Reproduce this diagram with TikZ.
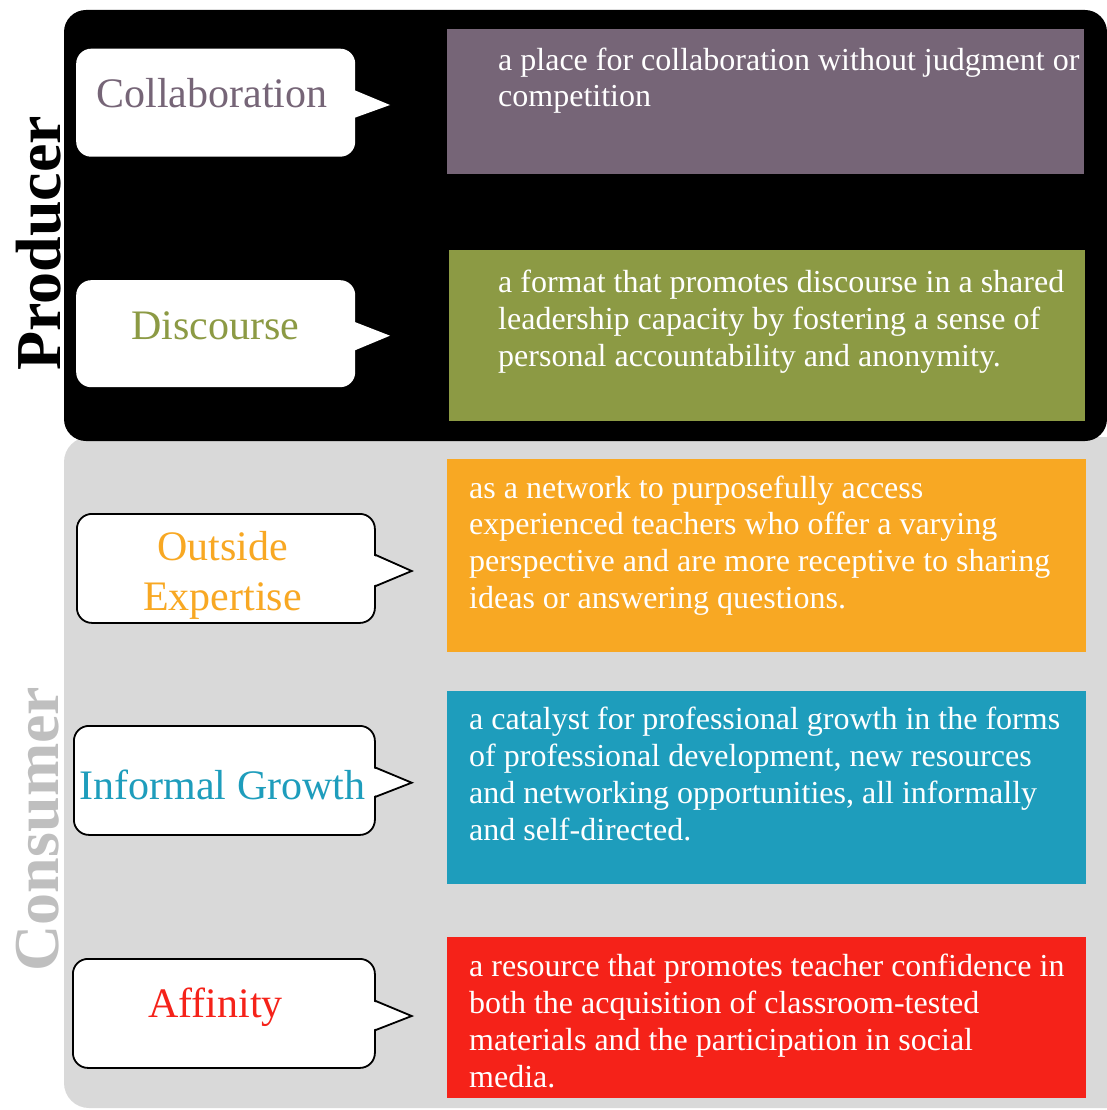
\documentclass[tikz,border=0pt]{standalone}
\usepackage{fontspec}
\setmainfont{Liberation Serif}
\usetikzlibrary{calc}

\definecolor{collabcol}{HTML}{766577}
\definecolor{discol}{HTML}{8C9A44}
\definecolor{expcol}{HTML}{F8A823}
\definecolor{growcol}{HTML}{1E9DBC}
\definecolor{affcol}{HTML}{F52219}
\definecolor{panelgray}{HTML}{D9D9D9}
\definecolor{consgray}{HTML}{BFBFBF}

\tikzset{
  descbox/.style={anchor=north west, inner sep=0pt, draw=none},
  desctext/.style={anchor=north west, inner sep=0pt, align=left, text=white,
    font=\fontsize{32}{36.8}\selectfont},
  callout/.style={anchor=north west, inner sep=0pt, fill=white, rounded corners=15pt},
  prodcallout/.style={callout, draw=none},
  conscallout/.style={callout, draw=black, line width=1.8pt},
  labeltext/.style={anchor=north, inner sep=0pt, align=center,
    font=\fontsize{42}{50}\selectfont},
  sidetitle/.style={rotate=90, anchor=base, inner sep=0pt,
    font=\fontsize{64}{70}\selectfont\bfseries},
  tipline/.style={draw=black, line width=1.8pt, line join=miter}
}

\begin{document}
\begin{tikzpicture}[x=1pt,y=-1pt]
\useasboundingbox (0,0) rectangle (1106,1110);

% background panels
\fill[panelgray, rounded corners=25pt] (64,437) rectangle (1140,1108);
\fill[black, rounded corners=22pt] (64,10) rectangle (1107,441);

% side titles
\node[sidetitle, text=black] (producer) at (60,243.5) {Producer};
\node[sidetitle, text=consgray] (consumer) at (58,829) {Consumer};

% description boxes
\node[descbox, fill=collabcol, minimum width=637pt, minimum height=145pt] (d1) at (447,29) {};
\node[descbox, fill=discol, minimum width=636pt, minimum height=171pt] (d2) at (449,250) {};
\node[descbox, fill=expcol, minimum width=639pt, minimum height=193pt] (d3) at (447,459) {};
\node[descbox, fill=growcol, minimum width=639pt, minimum height=193pt] (d4) at (447,691) {};
\node[descbox, fill=affcol, minimum width=639pt, minimum height=161pt] (d5) at (447,937) {};

% description texts (first-line baseline = top + 25.76)
\node[desctext] (t1) at (498,44.2) {\strut a place for collaboration without judgment or\\competition};
\node[desctext] (t2) at (498,266.7) {\strut a format that promotes discourse in a shared\\leadership capacity by fostering a sense of\\personal accountability and anonymity.};
\node[desctext] (t3) at (469,472.2) {\strut as a network to purposefully access\\experienced teachers who offer a varying\\perspective and are more receptive to sharing\\ideas or answering questions.};
\node[desctext] (t4) at (469,703.7) {\strut a catalyst for professional growth in the forms\\of professional development, new resources\\and networking opportunities, all informally\\and self-directed.};
\node[desctext] (t5) at (469,951) {\strut a resource that promotes teacher confidence in\\both the acquisition of classroom-tested\\materials and the participation in social\\media.};

% producer callouts
\node[prodcallout, minimum width=279pt, minimum height=108pt] (c1) at (76,48.5) {};
\coordinate (c1tip) at (390,105);
\fill[white] (354,90) -- (c1tip) -- (354,118) -- cycle;

\node[prodcallout, minimum width=279pt, minimum height=107pt] (c2) at (76,280) {};
\coordinate (c2tip) at (390,335.7);
\fill[white] (354,321.7) -- (c2tip) -- (354,350.7) -- cycle;

% consumer callouts
\node[conscallout, minimum width=298pt, minimum height=109pt] (c3) at (76,513) {};
\coordinate (c3tip) at (411.7,571);
\fill[white] (372,555) -- (c3tip) -- (372,586) -- cycle;
\draw[tipline] (c3.north east |- 0,555) -- (c3tip) -- (c3.north east |- 0,586);

\node[conscallout, minimum width=301pt, minimum height=109pt] (c4) at (73,725) {};
\coordinate (c4tip) at (411.7,782.7);
\fill[white] (372,767.7) -- (c4tip) -- (372,796.7) -- cycle;
\draw[tipline] (c4.north east |- 0,767.7) -- (c4tip) -- (c4.north east |- 0,796.7);

\node[conscallout, minimum width=302pt, minimum height=109pt] (c5) at (72,958) {};
\coordinate (c5tip) at (411.7,1016);
\fill[white] (372,1001) -- (c5tip) -- (372,1030) -- cycle;
\draw[tipline] (c5.north east |- 0,1001) -- (c5tip) -- (c5.north east |- 0,1030);

% callout labels (first-line baseline = top + 35)
\node[labeltext, text=collabcol] (l1) at (212,72) {\strut Collaboration};
\node[labeltext, text=discol] (l2) at (215.5,304) {\strut Discourse};
\node[labeltext, text=expcol] (l3) at (222.5,525) {\strut Outside\\Expertise};
\node[labeltext, text=growcol] (l4) at (222.5,764) {\strut Informal Growth};
\node[labeltext, text=affcol] (l5) at (215.5,982) {\strut Affinity};
\end{tikzpicture}
\end{document}
